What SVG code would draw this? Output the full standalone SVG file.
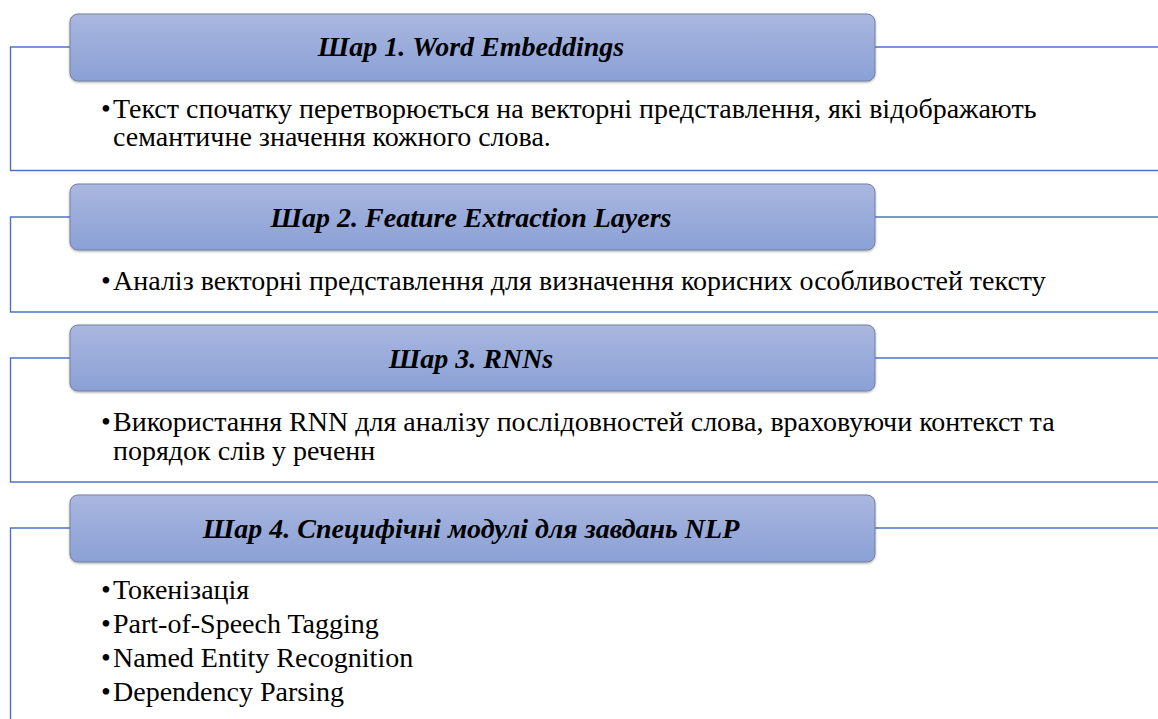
<svg xmlns="http://www.w3.org/2000/svg" width="1158" height="719" viewBox="0 0 1158 719">
<style>
.frame{fill:none;stroke:#4a74c9;stroke-width:1.4}
.hdr{fill:url(#g);stroke:#74839f;stroke-width:1}
.title{font-family:"Liberation Serif","Times New Roman",serif;font-size:28px;font-weight:bold;font-style:italic;fill:#000;text-anchor:middle}
.body{font-family:"Liberation Serif","Times New Roman",serif;font-size:28px;fill:#000}
</style>
<defs>
<linearGradient id="g" x1="0" y1="0" x2="0" y2="1">
<stop offset="0" stop-color="#aab7e0"/>
<stop offset="1" stop-color="#8aa0d5"/>
</linearGradient>
<filter id="sh" x="-5%" y="-20%" width="110%" height="140%">
<feDropShadow dx="0" dy="1" stdDeviation="1.2" flood-color="#000" flood-opacity="0.35"/>
</filter>
</defs>
<g id="connectors">
<path class="frame" d="M1160,47 H10.5 V170.5 H1160"/>
<path class="frame" d="M1160,217 H10.5 V312 H1160"/>
<path class="frame" d="M1160,358 H10.5 V482 H1160"/>
<path class="frame" d="M1160,528 H10.5 V725"/>
</g>
<g id="layer1">
<rect class="hdr" x="70" y="14" width="805" height="67" rx="8" filter="url(#sh)"/>
<text class="title" x="471" y="56">Шар 1. Word Embeddings</text>
<text class="body" x="101" y="118">•</text>
<text class="body" x="113" y="118">Текст спочатку перетворюється на векторні представлення, які відображають</text>
<text class="body" x="113" y="146">семантичне значення кожного слова.</text>
</g>
<g id="layer2">
<rect class="hdr" x="70" y="184" width="805" height="66" rx="8" filter="url(#sh)"/>
<text class="title" x="471" y="227">Шар 2. Feature Extraction Layers</text>
<text class="body" x="101" y="290">•</text>
<text class="body" x="113" y="290">Аналіз векторні представлення для визначення корисних особливостей тексту</text>
</g>
<g id="layer3">
<rect class="hdr" x="70" y="325" width="805" height="66" rx="8" filter="url(#sh)"/>
<text class="title" x="471" y="368">Шар 3. RNNs</text>
<text class="body" x="101" y="431">•</text>
<text class="body" x="113" y="431">Використання RNN для аналізу послідовностей слова, враховуючи контекст та</text>
<text class="body" x="113" y="460">порядок слів у реченн</text>
</g>
<g id="layer4">
<rect class="hdr" x="70" y="495" width="805" height="67" rx="8" filter="url(#sh)"/>
<text class="title" x="471" y="538">Шар 4. Специфічні модулі для завдань NLP</text>
<text class="body" x="101" y="599">•</text>
<text class="body" x="113" y="599">Токенізація</text>
<text class="body" x="101" y="633">•</text>
<text class="body" x="113" y="633">Part-of-Speech Tagging</text>
<text class="body" x="101" y="667">•</text>
<text class="body" x="113" y="667">Named Entity Recognition</text>
<text class="body" x="101" y="701">•</text>
<text class="body" x="113" y="701">Dependency Parsing</text>
</g>
</svg>
